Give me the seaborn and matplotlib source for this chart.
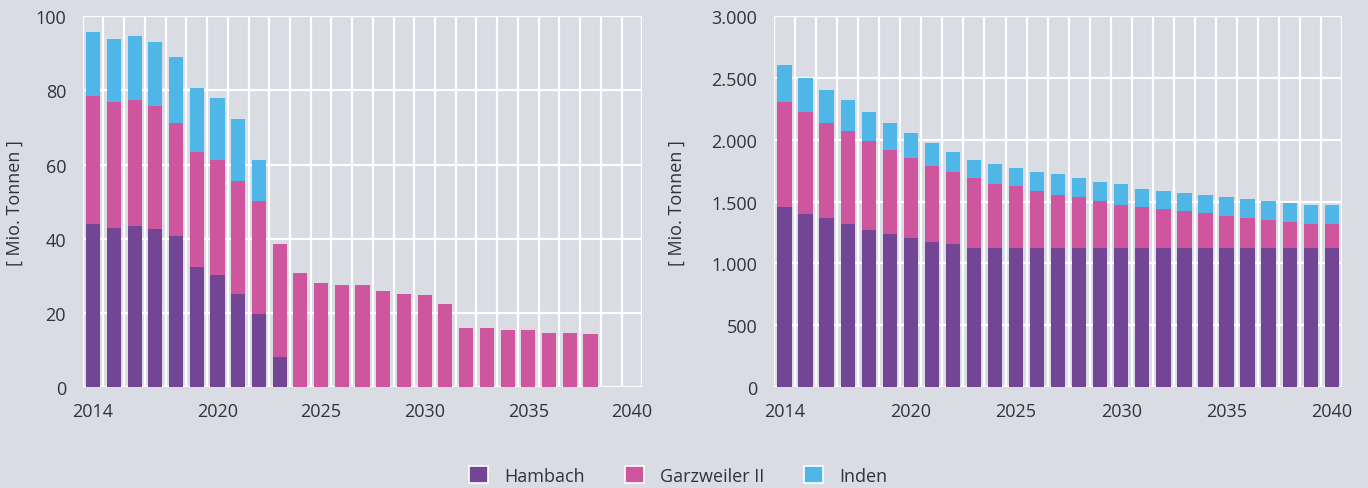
import numpy as np
import pandas as pd
import matplotlib
matplotlib.use("Agg")
import matplotlib.pyplot as plt
from matplotlib.patches import Patch
import seaborn as sns

# ==================================================
# Data (Mio. Tonnen)
# ==================================================

years = list(range(2014, 2041))

# left chart: yearly amounts
left_hambach = [44.0, 43.0, 43.5, 42.5, 40.7, 32.4, 30.3, 25.2, 19.7, 8.0,
                0, 0, 0, 0, 0, 0, 0, 0, 0, 0, 0, 0, 0, 0, 0, 0, 0]
left_garzweiler = [34.5, 33.9, 33.9, 33.3, 30.5, 31.1, 30.9, 30.5, 30.4, 30.6,
                   30.8, 28.0, 27.5, 27.5, 25.8, 25.2, 24.8, 22.5, 15.8, 15.8,
                   15.3, 15.3, 14.7, 14.7, 14.2, 0, 0]
left_inden = [17.2, 17.1, 17.2, 17.2, 17.8, 17.2, 16.7, 16.7, 11.1,
              0, 0, 0, 0, 0, 0, 0, 0, 0, 0, 0, 0, 0, 0, 0, 0, 0, 0]

# right chart: remaining amounts
right_hambach = [1455, 1404, 1371, 1320, 1274, 1238, 1206, 1173, 1157, 1125,
                 1125, 1125, 1125, 1125, 1125, 1125, 1125, 1125, 1125, 1125,
                 1125, 1125, 1125, 1125, 1125, 1125, 1125]
right_garzweiler = [849, 818, 765, 750, 715, 683, 648, 613, 580, 563,
                    515, 498, 463, 431, 414, 382, 347, 330, 314, 298,
                    281, 263, 246, 230, 214, 197, 197]
right_inden = [300, 282, 270, 250, 233, 217, 203, 187, 168, 149,
               165, 149, 152, 168, 149, 149, 168, 149, 149, 149,
               150, 151, 152, 152, 152, 152, 152]

series = ["Hambach", "Garzweiler II", "Inden"]
colors = {"Hambach": "#734595", "Garzweiler II": "#cf559e", "Inden": "#4fb7e8"}

bg = "#d9dce3"
text_color = "#333333"

# ==================================================
# Style
# ==================================================

sns.set_theme(style="white")
plt.rcParams["font.family"] = ["Open Sans", "DejaVu Sans"]
plt.rcParams["text.color"] = text_color
plt.rcParams["axes.labelcolor"] = text_color
plt.rcParams["xtick.color"] = text_color
plt.rcParams["ytick.color"] = text_color

fig = plt.figure(figsize=(13.68, 4.89), dpi=100, facecolor=bg)
ax1 = fig.add_axes([0.0605, 0.2065, 0.409, 0.758])
ax2 = fig.add_axes([0.5658, 0.2065, 0.4154, 0.758])


def stacked(ax, h, g, i, ymax, step, fmt):
    df = pd.DataFrame({"year": years, "Hambach": h, "Garzweiler II": g, "Inden": i})
    df["top_i"] = df["Hambach"] + df["Garzweiler II"] + df["Inden"]
    df["top_g"] = df["Hambach"] + df["Garzweiler II"]
    df["top_h"] = df["Hambach"]
    for col, name in [("top_i", "Inden"), ("top_g", "Garzweiler II"), ("top_h", "Hambach")]:
        sns.barplot(data=df, x="year", y=col, order=years, color=colors[name],
                    saturation=1, width=0.68, linewidth=0, ax=ax, zorder=3)

    ax.set_facecolor(bg)
    ax.set_xlim(-0.5, len(years) - 0.5)
    ax.set_ylim(0, ymax)
    ax.set_yticks(np.arange(0, ymax + 1, step))
    ax.set_yticklabels([fmt(v) for v in np.arange(0, ymax + 1, step)])
    tick_years = [2014, 2020, 2025, 2030, 2035, 2040]
    ax.set_xticks([years.index(y) for y in tick_years])
    ax.set_xticklabels([str(y) for y in tick_years])
    ax.set_xticks(np.arange(-0.5, len(years), 1), minor=True)
    ax.grid(False)
    ax.grid(axis="x", which="minor", color="white", lw=1.6, zorder=1)
    ax.grid(axis="y", which="major", color="white", lw=1.6, zorder=1)
    for s in ax.spines.values():
        s.set_visible(False)
    ax.tick_params(axis="both", which="both", length=0, labelsize=13)
    ax.tick_params(axis="y", pad=12)
    ax.tick_params(axis="x", pad=11)
    ax.set_xlabel("")
    ax.set_ylabel("[ Mio. Tonnen ]", fontsize=13)


stacked(ax1, left_hambach, left_garzweiler, left_inden, 100, 20, lambda v: f"{int(v)}")
stacked(ax2, right_hambach, right_garzweiler, right_inden, 3000, 500,
        lambda v: f"{int(v):,}".replace(",", "."))

ax1.yaxis.set_label_coords(-0.105, 0.5)
ax2.yaxis.set_label_coords(-0.155, 0.5)

handles = [Patch(facecolor=colors[s], edgecolor="white", lw=1.2, label=s) for s in series]
fig.legend(handles=handles, loc="center", bbox_to_anchor=(0.496, 0.026), ncol=3,
           frameon=False, fontsize=13, handlelength=1.05, handleheight=1.05,
           handletextpad=0.9, columnspacing=2.2)

plt.savefig("out.png", dpi=100, facecolor=bg)
plt.close()
